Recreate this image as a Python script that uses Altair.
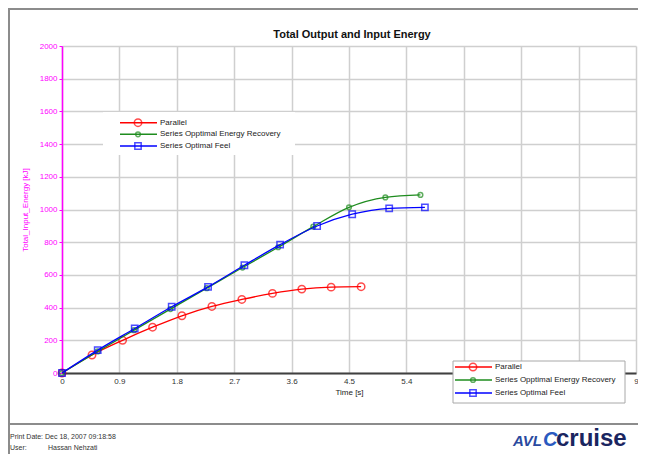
import altair as alt
import pandas as pd

FONT = "Liberation Sans"

series = ["Parallel", "Series Opptimal Energy Recovery", "Series Optimal Feel"]
legend_labels = ["Parallel", "Series Opptimal Energy Recovery", "Series Optimal Feel"]
colors = ["#ff0000", "#1e8c1e", "#0000ff"]
shapes = ["circle", "circle", "square"]
marker_sizes = [55, 22, 40]

t_parallel = [0, 0.47, 0.95, 1.42, 1.88, 2.35, 2.82, 3.30, 3.76, 4.22, 4.69]
e_parallel = [0, 110, 200, 280, 350, 407, 450, 487, 513, 525, 528]
t_recovery = [0, 0.56, 1.13, 1.70, 2.27, 2.83, 3.39, 3.94, 4.50, 5.07, 5.62]
e_recovery = [0, 132, 262, 391, 519, 645, 769, 895, 1013, 1074, 1089]
t_feel = [0, 0.56, 1.14, 1.72, 2.29, 2.86, 3.42, 4.00, 4.55, 5.13, 5.69]
e_feel = [0, 140, 272, 405, 527, 659, 785, 899, 971, 1007, 1013]

x_ticks = [0, 0.9, 1.8, 2.7, 3.6, 4.5, 5.4, 6.3, 7.2, 8.1, 9]
x_hidden_labels = [6.3, 7.2, 8.1]   # covered by the legend box in the reference
y_ticks = [0, 200, 400, 600, 800, 1000, 1200, 1400, 1600, 1800, 2000]

title_text = "Total Output and Input Energy"
x_title = "Time [s]"
y_title = "Total_Input_Energy [kJ]"
print_date = "Print Date: Dec 18, 2007 09:18:58"
user_label = "User:"
user_name = "Hassan Nehzati"

rows = []
for name, ts, es in [(series[0], t_parallel, e_parallel),
                     (series[1], t_recovery, e_recovery),
                     (series[2], t_feel, e_feel)]:
    for t, e in zip(ts, es):
        rows.append({"series": name, "t": t, "E": e})
df = pd.DataFrame(rows)

W, H = 574, 327
MAGENTA = "#ff00ff"

hidden = " || ".join(f"abs(datum.value - {v}) < 0.01" for v in x_hidden_labels)
x_label_expr = f"({hidden}) ? '' : format(datum.value, '.2~f')"

base = alt.Chart(df).encode(
    x=alt.X("t:Q", scale=alt.Scale(domain=[0, 9], nice=False),
            axis=alt.Axis(values=x_ticks, labelExpr=x_label_expr, title=x_title,
                          domainColor="#404040", domainWidth=2, ticks=False,
                          labelFlush=False, labelPadding=4, labelFontSize=8,
                          labelColor="#333333", labelFont=FONT,
                          titleFont=FONT, titleFontSize=8, titleFontWeight="normal",
                          titleColor="#222222", titlePadding=3,
                          gridColor="#cfcfcf", gridWidth=1.5)),
    y=alt.Y("E:Q", scale=alt.Scale(domain=[0, 2000], nice=False),
            axis=alt.Axis(values=y_ticks, format="d", title=y_title,
                          domainColor=MAGENTA, domainWidth=1.5,
                          tickColor=MAGENTA, tickSize=3, labelPadding=2,
                          labelColor=MAGENTA, labelFontSize=8, labelFont=FONT,
                          titleColor=MAGENTA, titleFont=FONT, titleFontSize=8,
                          titleFontWeight="normal", titleX=-37, titleY=H / 2,
                          titleAngle=-90, titleAlign="center", titleBaseline="middle",
                          gridColor="#cfcfcf", gridWidth=1.5)),
)

layers = []
for name, c, shp, sz in zip(series, colors, shapes, marker_sizes):
    f = base.transform_filter(alt.datum.series == name)
    layers.append(f.mark_line(color=c, strokeWidth=1.3, interpolate="monotone"))
    layers.append(f.mark_point(color=c, shape=shp, size=sz, filled=False, strokeWidth=1.5))


def one():
    return alt.Chart(alt.Data(values=[{}]))


def text(txt, x, y, **kw):
    return one().mark_text(text=txt, font=FONT, **kw).encode(x=alt.value(x), y=alt.value(y))


def hrule(x1, x2, y, color, width):
    return one().mark_rule(color=color, strokeWidth=width).encode(
        x=alt.value(x1), x2=alt.value(x2), y=alt.value(y))


def vrule(x, y1, y2, color, width):
    return one().mark_rule(color=color, strokeWidth=width).encode(
        x=alt.value(x), y=alt.value(y1), y2=alt.value(y2))


def box(x1, x2, y1, y2, stroke=None):
    kw = {"fill": "white"}
    if stroke:
        kw.update(stroke=stroke, strokeWidth=1)
    return one().mark_rect(**kw).encode(
        x=alt.value(x1), x2=alt.value(x2), y=alt.value(y1), y2=alt.value(y2))


def legend(ys, line_x1, line_x2, mark_x, text_x):
    out = []
    for lab, c, shp, sz, yy in zip(legend_labels, colors, shapes, marker_sizes, ys):
        out.append(hrule(line_x1, line_x2, yy, c, 1.5))
        out.append(one().mark_point(color=c, shape=shp, size=sz, filled=False,
                                    strokeWidth=1.5).encode(x=alt.value(mark_x), y=alt.value(yy)))
        out.append(text(lab, text_x, yy, align="left", baseline="middle",
                        fontSize=8, color="#222222"))
    return out


deco = []
# frame
deco.append(hrule(-54, 576, -37, "#8c8c8c", 2))
deco.append(vrule(-53, -38, 408, "#8c8c8c", 2))
deco.append(hrule(-54, 576, 378, "#8c8c8c", 2))
# title
deco.append(text(title_text, 290, -11, align="center", baseline="middle",
                 fontSize=11, fontWeight="bold", color="#111111"))
# legend inside plot
deco.append(box(41, 233, 66, 109))
deco += legend([76.7, 88.3, 100], 58, 95, 76, 98)
# legend lower right
deco.append(box(391, 563, 315, 357, stroke="#a8a8a8"))
deco += legend([321, 334, 347], 393, 430, 411, 433)
# footer
deco.append(text(print_date, -52, 391, align="left", baseline="middle", fontSize=7, color="#333333"))
deco.append(text(user_label, -52, 402, align="left", baseline="middle", fontSize=7, color="#333333"))
deco.append(text(user_name, -14, 402, align="left", baseline="middle", fontSize=7, color="#333333"))
deco.append(text("AVL", 451, 400, align="left", baseline="alphabetic", fontSize=15,
                 fontWeight="bold", fontStyle="italic", color="#2a4aa0"))
deco.append(text("C", 481, 400, align="left", baseline="alphabetic", fontSize=20,
                 fontWeight="bold", fontStyle="italic", color="#2a5ac0"))
deco.append(text("cruise", 494, 400, align="left", baseline="alphabetic", fontSize=24,
                 fontWeight="bold", color="#1a2560"))

chart = alt.layer(*layers, *deco).properties(
    width=W, height=H,
    autosize=alt.AutoSizeParams(type="none"),
    padding={"left": 54, "top": 38, "right": 2, "bottom": 81},
    background="white",
).configure_view(stroke=None)

chart.save("out.html", embed_options={"renderer": "svg", "actions": False})
